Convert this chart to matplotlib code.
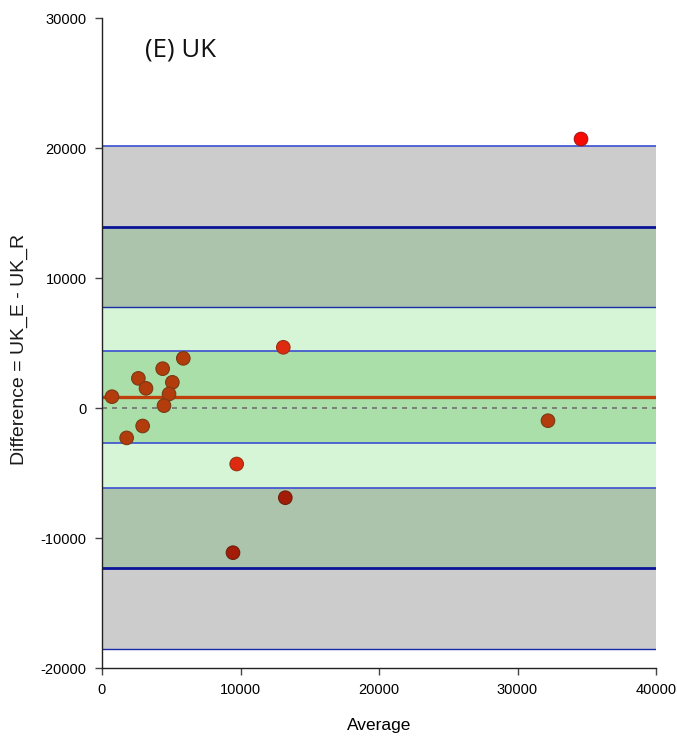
import matplotlib
matplotlib.use("Agg")
import matplotlib.pyplot as plt
from matplotlib import font_manager

# Bland-Altman data: average of the two measures and their difference
avg = [720, 1780, 2935, 2625, 3177, 4380, 5080, 4840, 4477, 5870,
       13090, 9725, 13235, 9458, 32200, 34585]
diff = [870, -2300, -1385, 2280, 1513, 3025, 1975, 1077, 180, 3820,
        4670, -4308, -6900, -11130, -977, 20690]
point_colors = ["#b23c0c"] * 10 + ["#de2a0e", "#de2a0e", "#a21c08", "#a21c08",
                                   "#b23c0c", "#f80a04"]
edge_colors = ["#7a3a14"] * 10 + ["#9a3014", "#9a3014", "#6e2010", "#6e2010",
                                  "#7a3a14", "#b01010"]

# Agreement statistics
mean_diff = 846
loa_upper = 13923
loa_lower = -12308
mean_ci = (-2692, 4385)
upper_ci = (7770, 20154)
lower_ci = (-18538, -6154)

x_ticks = [0, 10000, 20000, 30000, 40000]
y_ticks = [-20000, -10000, 0, 10000, 20000, 30000]

names = {f.name for f in font_manager.fontManager.ttflist}
narrow = "Liberation Sans Narrow" if "Liberation Sans Narrow" in names else "Liberation Sans"
tick_size = 11.5 if narrow == "Liberation Sans Narrow" else 10.5

fig = plt.figure(figsize=(6.77, 7.42), dpi=100)
ax = fig.add_axes([102 / 677, 74 / 742, 554 / 677, 650 / 742])
ax.set_xlim(0, 40000)
ax.set_ylim(-20000, 30000)

# shaded confidence bands
GRAY = "#cccccc"
DARK_GREEN = "#abc4ab"
LIGHT_GREEN = "#d6f5d6"
MID_GREEN = "#aadfaa"
ax.axhspan(loa_upper, upper_ci[1], color=GRAY, lw=0, zorder=0)
ax.axhspan(upper_ci[0], loa_upper, color=DARK_GREEN, lw=0, zorder=0)
ax.axhspan(mean_ci[1], upper_ci[0], color=LIGHT_GREEN, lw=0, zorder=0)
ax.axhspan(mean_ci[0], mean_ci[1], color=MID_GREEN, lw=0, zorder=0)
ax.axhspan(lower_ci[1], mean_ci[0], color=LIGHT_GREEN, lw=0, zorder=0)
ax.axhspan(loa_lower, lower_ci[1], color=DARK_GREEN, lw=0, zorder=0)
ax.axhspan(lower_ci[0], loa_lower, color=GRAY, lw=0, zorder=0)

# band borders
for y in (upper_ci[1], mean_ci[1], mean_ci[0], lower_ci[1]):
    ax.axhline(y, color="#3a4fd0", lw=1.2, zorder=1)
for y in (upper_ci[0], lower_ci[0]):
    ax.axhline(y, color="#1a2aa8", lw=1.0, zorder=1)
for y in (loa_upper, loa_lower):
    ax.axhline(y, color="#0a1498", lw=2.0, zorder=1)

ax.axhline(0, color="#707070", lw=1.2, ls=(0, (3, 3)), zorder=1)
ax.axhline(mean_diff, color="#c0400c", lw=2.4, zorder=2)

ax.scatter(avg, diff, s=95, c=point_colors, edgecolors=edge_colors,
           linewidths=0.8, zorder=3, clip_on=False)

ax.text(0.078, 0.9415, "(E) UK", transform=ax.transAxes, fontsize=18.5,
        family=["Open Sans", "DejaVu Sans"], color="#111111", va="baseline")

for side in ("top", "right"):
    ax.spines[side].set_visible(False)
for side in ("left", "bottom"):
    ax.spines[side].set_color("#222222")
    ax.spines[side].set_linewidth(1.0)

ax.set_xticks(x_ticks)
ax.set_yticks(y_ticks)
ax.set_xticklabels([str(v) for v in x_ticks])
ax.set_yticklabels([str(v) for v in y_ticks])
ax.tick_params(direction="out", length=5, width=1, color="#444444",
               labelsize=tick_size, pad=6)
for lab in ax.get_xticklabels() + ax.get_yticklabels():
    lab.set_family(narrow)

ax.set_xlabel("Average", fontsize=12.5, family="Liberation Sans", labelpad=15)
ax.set_ylabel("Difference = UK_E - UK_R", fontsize=14, family="Liberation Sans",
              color="#1a1a1a")
ax.yaxis.set_label_coords(-0.133, 0.49)

fig.savefig("out.png", dpi=100)
